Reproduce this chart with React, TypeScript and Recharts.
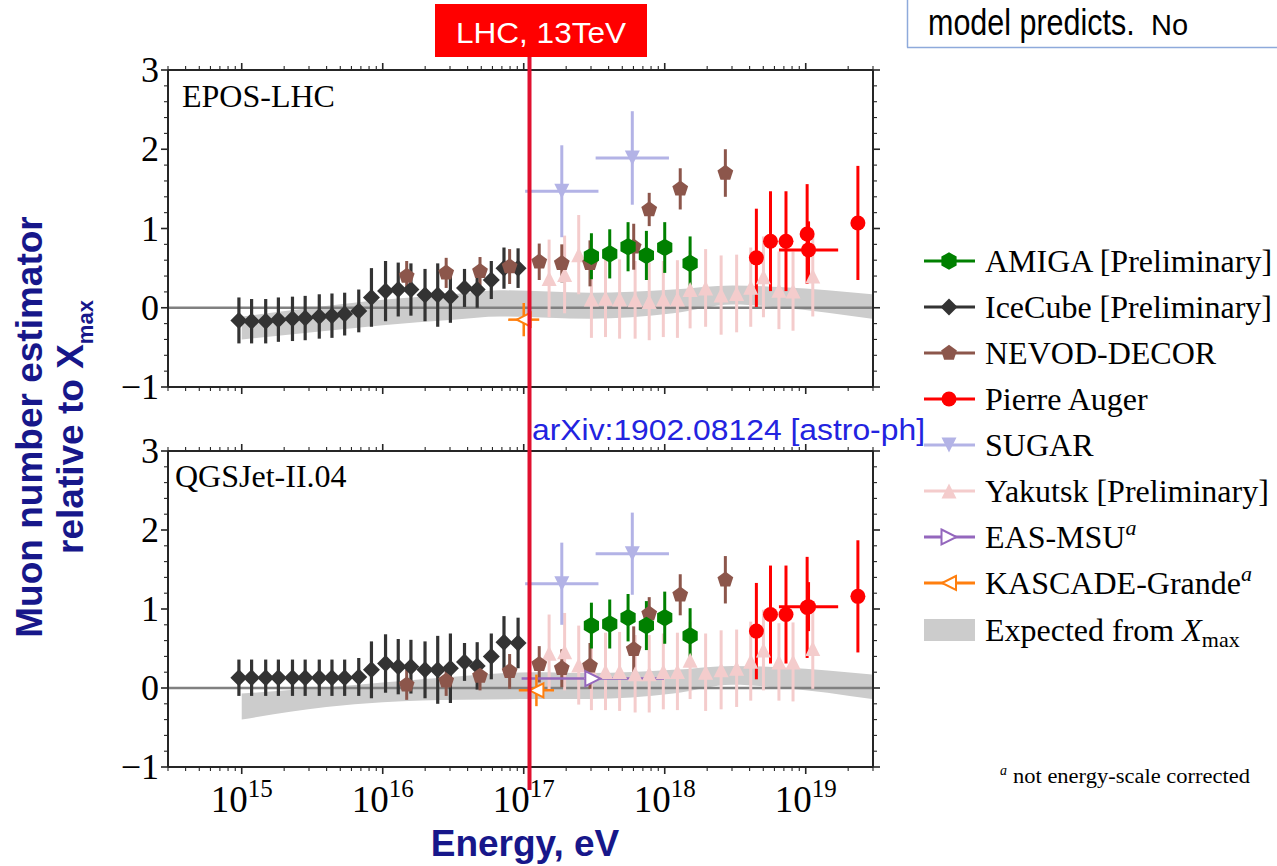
import React from 'react';
import { ComposedChart, Scatter, Area, XAxis, YAxis, ErrorBar, ReferenceLine } from 'recharts';

const SERIF = '"Liberation Serif", "Times New Roman", serif';
const SANS = '"Liberation Sans", Arial, sans-serif';
const NAVY = '#17178a';
const AX = '#262626';

// x values are log10(Energy / eV)
const X_MIN = 14 + Math.log10(3);
const X_MAX = 19 + Math.log10(3);

const yTicks = [-1, -0.8, -0.6, -0.4, -0.2, 0, 0.2, 0.4, 0.6, 0.8, 1, 1.2, 1.4, 1.6, 1.8, 2, 2.2, 2.4, 2.6, 2.8, 3];
const xDecades = [14, 15, 16, 17, 18, 19];
const xMantissas = [1, 2, 3, 4, 5, 6, 7, 8, 9];

// ---------------- IceCube [Preliminary] ----------------
const iceLgE = [14.98, 15.07, 15.17, 15.26, 15.36, 15.45, 15.55, 15.64, 15.73, 15.83, 15.92, 16.02, 16.11, 16.20, 16.30, 16.39, 16.48, 16.58, 16.67, 16.77, 16.86, 16.96];
const iceEpos = [-0.16, -0.17, -0.17, -0.15, -0.14, -0.13, -0.11, -0.10, -0.08, -0.04, 0.13, 0.21, 0.23, 0.23, 0.16, 0.16, 0.14, 0.25, 0.23, 0.35, 0.50, 0.50];
const iceEposErr = [0.29, 0.28, 0.28, 0.28, 0.28, 0.28, 0.28, 0.28, 0.27, 0.27, 0.37, 0.38, 0.34, 0.33, 0.33, 0.40, 0.33, 0.24, 0.23, 0.24, 0.26, 0.25];
const iceQgs = [0.13, 0.13, 0.13, 0.13, 0.13, 0.13, 0.13, 0.13, 0.13, 0.14, 0.23, 0.31, 0.27, 0.27, 0.23, 0.23, 0.25, 0.33, 0.28, 0.40, 0.58, 0.57];
const iceQgsErr = [0.23, 0.23, 0.23, 0.23, 0.23, 0.23, 0.23, 0.23, 0.23, 0.24, 0.36, 0.37, 0.35, 0.34, 0.36, 0.43, 0.44, 0.24, 0.30, 0.29, 0.33, 0.32];

// ---------------- NEVOD-DECOR ----------------
const nevodLgE = [16.17, 16.45, 16.69, 16.90, 17.11, 17.27, 17.47, 17.78, 17.89, 18.11, 18.43];
const nevodEpos = [0.40, 0.44, 0.46, 0.52, 0.58, 0.56, 0.56, 0.77, 1.24, 1.50, 1.70];
const nevodQgs = [0.04, 0.09, 0.15, 0.21, 0.30, 0.25, 0.28, 0.49, 0.94, 1.18, 1.37];
const nevodErr = [0.19, 0.19, 0.18, 0.22, 0.23, 0.24, 0.29, 0.29, 0.21, 0.26, 0.30];

// ---------------- AMIGA [Preliminary] ----------------
const amigaLgE = [17.48, 17.61, 17.74, 17.87, 18.00, 18.18];
const amigaEpos = [0.65, 0.68, 0.77, 0.66, 0.76, 0.56];
const amigaEposErr = [0.29, 0.31, 0.31, 0.31, 0.32, 0.34];
const amigaQgs = [0.79, 0.81, 0.89, 0.79, 0.89, 0.66];
const amigaQgsErr = [0.29, 0.31, 0.30, 0.31, 0.33, 0.35];

// ---------------- Pierre Auger ----------------
const augerLgE = [18.65, 18.75, 18.86, 19.01, 19.02, 19.37];
const augerLgEErr = [0, 0, 0, 0, 0.21, 0];
const augerEpos = [0.63, 0.84, 0.84, 0.93, 0.73, 1.07];
const augerEposErr = [0.62, 0.63, 0.63, 0.63, 0.36, 0.72];
const augerQgs = [0.72, 0.93, 0.93, 1.02, 1.03, 1.16];
const augerQgsErr = [0.61, 0.62, 0.62, 0.64, 0.31, 0.71];

// ---------------- SUGAR ----------------
const sugarLgE = [17.27, 17.77];
const sugarLgEErr = [0.26, 0.26];
const sugarEpos = [1.47, 1.89];
const sugarEposErr = [0.58, 0.59];
const sugarQgs = [1.32, 1.70];
const sugarQgsErr = [0.52, 0.52];

// ---------------- Yakutsk [Preliminary] ----------------
const yakLgE = [17.18, 17.29, 17.39, 17.48, 17.58, 17.68, 17.79, 17.89, 17.99, 18.09, 18.18, 18.29, 18.40, 18.51, 18.61, 18.70, 18.81, 18.91, 19.05];
const yakEpos = [0.37, 0.42, 0.67, 0.11, 0.12, 0.11, 0.10, 0.08, 0.11, 0.11, 0.23, 0.25, 0.16, 0.18, 0.26, 0.39, 0.22, 0.21, 0.40];
const yakQgs = [0.44, 0.46, 0.29, 0.21, 0.21, 0.21, 0.18, 0.18, 0.21, 0.21, 0.35, 0.20, 0.23, 0.25, 0.34, 0.48, 0.33, 0.33, 0.50];
const yakErr = [0.49, 0.49, 0.50, 0.49, 0.49, 0.50, 0.49, 0.49, 0.48, 0.49, 0.49, 0.49, 0.50, 0.49, 0.50, 0.51, 0.49, 0.50, 0.51];

// ---------------- EAS-MSU (QGSJet panel only) ----------------
const easLgE = [17.49];
const easLgEErr = [0.505];
const easQgs = [0.12];

// ---------------- KASCADE-Grande ----------------
const kasEposLgE = [17.0];
const kasEposLgEErr = [0.11];
const kasEpos = [-0.15];
const kasEposErr = [0.21];
const kasQgsLgE = [17.09];
const kasQgsLgEErr = [0.125];
const kasQgs = [-0.03];
const kasQgsErr = [0.2];

// ---------------- Expected from Xmax (band) ----------------
const bandEposLgE = [15.0, 15.5, 16.0, 16.5, 16.83, 17.47, 18.06, 18.48, 18.84, 19.47];
const bandEposLo = [-0.40, -0.31, -0.22, -0.15, -0.11, -0.14, -0.07, 0.04, 0.00, -0.14];
const bandEposHi = [-0.11, 0.00, 0.10, 0.17, 0.22, 0.19, 0.23, 0.28, 0.26, 0.17];
const bandQgsLgE = [15.0, 15.6, 16.0, 16.55, 17.07, 17.47, 18.06, 18.48, 18.84, 19.47];
const bandQgsLo = [-0.40, -0.24, -0.18, -0.15, -0.14, -0.14, -0.07, 0.04, 0.00, -0.14];
const bandQgsHi = [-0.07, 0.01, 0.07, 0.15, 0.20, 0.19, 0.23, 0.28, 0.26, 0.17];

const COL = {
  amiga: '#008000',
  ice: '#333333',
  nevod: '#8c564b',
  auger: '#ff0000',
  sugar: '#b3b3e6',
  yak: '#f4cccc',
  eas: '#9467bd',
  kas: '#ff7f0e',
  band: '#cccccc',
};

const xTicks: number[] = [];
xDecades.forEach((n) =>
  xMantissas.forEach((k) => {
    const v = n + Math.log10(k);
    if (v >= X_MIN - 1e-6 && v <= X_MAX + 1e-6) xTicks.push(v);
  })
);

const isMajor = (v: number) => Math.abs(v - Math.round(v)) < 1e-6;

function Marker({ kind, cx, cy, color }: { kind: string; cx: number; cy: number; color: string }) {
  if (cx == null || cy == null || isNaN(cx) || isNaN(cy)) return <g />;
  const poly = (n: number, r: number, start: number) => {
    const pts: string[] = [];
    for (let i = 0; i < n; i++) {
      const a = ((start + (360 / n) * i) * Math.PI) / 180;
      pts.push(`${cx + r * Math.cos(a)},${cy + r * Math.sin(a)}`);
    }
    return pts.join(' ');
  };
  switch (kind) {
    case 'D': {
      const h = 8.5;
      return <path d={`M${cx},${cy - h}L${cx + h},${cy}L${cx},${cy + h}L${cx - h},${cy}Z`} fill={color} />;
    }
    case 'p':
      return <polygon points={poly(5, 8.3, -90)} fill={color} />;
    case 'h':
      return <polygon points={poly(6, 8.8, -90)} fill={color} />;
    case 'o':
      return <circle cx={cx} cy={cy} r={7.5} fill={color} />;
    case 'v': {
      const a = 7.5;
      return <path d={`M${cx - a},${cy - a}L${cx + a},${cy - a}L${cx},${cy + a}Z`} fill={color} />;
    }
    case '^': {
      const a = 7.5;
      return <path d={`M${cx - a},${cy + a}L${cx + a},${cy + a}L${cx},${cy - a}Z`} fill={color} />;
    }
    case '>': {
      const a = 7.5;
      return <path d={`M${cx - a},${cy - a}L${cx + a},${cy}L${cx - a},${cy + a}Z`} fill="#ffffff" stroke={color} strokeWidth={2} />;
    }
    case '<': {
      const a = 7;
      return <path d={`M${cx + a},${cy - a}L${cx - a},${cy}L${cx + a},${cy + a}Z`} fill="#ffffff" stroke={color} strokeWidth={2} />;
    }
    default:
      return <g />;
  }
}

const shapeOf = (kind: string, color: string) => (p: any) => <Marker kind={kind} cx={p.cx} cy={p.cy} color={color} />;

function makeXTick(side: 'bottom' | 'top', labels: boolean) {
  return (p: any) => {
    const { x, y, payload } = p;
    const v = Number(payload?.value);
    const maj = isMajor(v);
    const len = maj ? 7 : 4;
    const y2 = side === 'bottom' ? y + len : y - len;
    return (
      <g>
        <line x1={x} x2={x} y1={y} y2={y2} stroke={AX} strokeWidth={maj ? 1.6 : 1.1} />
        {labels && maj ? (
          <text x={x} y={y + 45} textAnchor="middle" fontFamily={SERIF} fontSize={37} fill="#000">
            10
            <tspan dy={-15} fontSize={25}>
              {String(Math.round(v))}
            </tspan>
          </text>
        ) : null}
      </g>
    );
  };
}

function makeYTick(side: 'left' | 'right') {
  return (p: any) => {
    const { x, y, payload } = p;
    const v = Number(payload?.value);
    const maj = isMajor(v);
    const len = maj ? 7 : 4;
    const x2 = side === 'left' ? x - len : x + len;
    const lab = v < 0 ? '\u2212' + String(Math.abs(Math.round(v))) : String(Math.round(v));
    return (
      <g>
        <line x1={x} x2={x2} y1={y} y2={y} stroke={AX} strokeWidth={maj ? 1.6 : 1.1} />
        {side === 'left' && maj ? (
          <text x={x - 9} y={y + 12} textAnchor="end" fontFamily={SERIF} fontSize={36} fill="#000">
            {lab}
          </text>
        ) : null}
      </g>
    );
  };
}

const zip3 = (xs: number[], ys: number[], eys?: number[], exs?: number[]) =>
  xs.map((x, i) => ({ x, y: ys[i], ey: eys ? eys[i] : 0, ex: exs ? exs[i] : 0 }));

type PanelDef = {
  band: { x: number; band: [number, number] }[];
  ice: any[];
  nevod: any[];
  amiga: any[];
  auger: any[];
  sugar: any[];
  yak: any[];
  eas: any[] | null;
  kas: any[];
};

const eposPanel: PanelDef = {
  band: bandEposLgE.map((x, i) => ({ x, band: [bandEposLo[i], bandEposHi[i]] as [number, number] })),
  ice: zip3(iceLgE, iceEpos, iceEposErr),
  nevod: zip3(nevodLgE, nevodEpos, nevodErr),
  amiga: zip3(amigaLgE, amigaEpos, amigaEposErr),
  auger: zip3(augerLgE, augerEpos, augerEposErr, augerLgEErr),
  sugar: zip3(sugarLgE, sugarEpos, sugarEposErr, sugarLgEErr),
  yak: zip3(yakLgE, yakEpos, yakErr),
  eas: null,
  kas: zip3(kasEposLgE, kasEpos, kasEposErr, kasEposLgEErr),
};

const qgsPanel: PanelDef = {
  band: bandQgsLgE.map((x, i) => ({ x, band: [bandQgsLo[i], bandQgsHi[i]] as [number, number] })),
  ice: zip3(iceLgE, iceQgs, iceQgsErr),
  nevod: zip3(nevodLgE, nevodQgs, nevodErr),
  amiga: zip3(amigaLgE, amigaQgs, amigaQgsErr),
  auger: zip3(augerLgE, augerQgs, augerQgsErr, augerLgEErr),
  sugar: zip3(sugarLgE, sugarQgs, sugarQgsErr, sugarLgEErr),
  yak: zip3(yakLgE, yakQgs, yakErr),
  eas: zip3(easLgE, easQgs, undefined, easLgEErr),
  kas: zip3(kasQgsLgE, kasQgs, kasQgsErr, kasQgsLgEErr),
};

function errY(color: string, w: number) {
  return <ErrorBar dataKey="ey" direction="y" width={0} stroke={color} strokeWidth={w} isAnimationActive={false} />;
}
function errX(color: string, w: number) {
  return <ErrorBar dataKey="ex" direction="x" width={0} stroke={color} strokeWidth={w} isAnimationActive={false} />;
}

function Panel({ def, top, height, margin, labels }: { def: PanelDef; top: number; height: number; margin: any; labels: boolean }) {
  return (
    <div style={{ position: 'absolute', left: 0, top }}>
      <ComposedChart width={900} height={height} data={def.band} margin={margin}>
        <XAxis
          dataKey="x"
          type="number"
          domain={[X_MIN, X_MAX]}
          allowDataOverflow
          ticks={xTicks}
          interval={0}
          tickLine={false}
          tickSize={0}
          tickMargin={0}
          height={10}
          axisLine={{ stroke: AX, strokeWidth: 2 }}
          tick={makeXTick('bottom', labels)}
        />
        <XAxis
          xAxisId="t"
          orientation="top"
          dataKey="x"
          type="number"
          domain={[X_MIN, X_MAX]}
          allowDataOverflow
          ticks={xTicks}
          interval={0}
          tickLine={false}
          tickSize={0}
          tickMargin={0}
          height={10}
          axisLine={{ stroke: AX, strokeWidth: 2 }}
          tick={makeXTick('top', false)}
        />
        <YAxis
          type="number"
          domain={[-1, 3]}
          allowDataOverflow
          ticks={yTicks}
          interval={0}
          tickLine={false}
          tickSize={0}
          tickMargin={0}
          width={60}
          axisLine={{ stroke: AX, strokeWidth: 2 }}
          tick={makeYTick('left')}
        />
        <YAxis
          yAxisId="r"
          orientation="right"
          type="number"
          domain={[-1, 3]}
          allowDataOverflow
          ticks={yTicks}
          interval={0}
          tickLine={false}
          tickSize={0}
          tickMargin={0}
          width={10}
          axisLine={{ stroke: AX, strokeWidth: 2 }}
          tick={makeYTick('right')}
        />
        <Area
          dataKey="band"
          type="monotone"
          fill={COL.band}
          fillOpacity={1}
          stroke="none"
          dot={false}
          activeDot={false}
          isAnimationActive={false}
        />
        <ReferenceLine y={0} stroke="#808080" strokeWidth={2.5} />
        <Scatter data={def.yak} dataKey="y" shape={shapeOf('^', COL.yak)} isAnimationActive={false}>
          {errY(COL.yak, 3)}
        </Scatter>
        <Scatter data={def.sugar} dataKey="y" shape={shapeOf('v', COL.sugar)} isAnimationActive={false}>
          {errY(COL.sugar, 3)}
          {errX(COL.sugar, 3)}
        </Scatter>
        <Scatter data={def.ice} dataKey="y" shape={shapeOf('D', COL.ice)} isAnimationActive={false}>
          {errY(COL.ice, 3.2)}
        </Scatter>
        <Scatter data={def.nevod} dataKey="y" shape={shapeOf('p', COL.nevod)} isAnimationActive={false}>
          {errY(COL.nevod, 3)}
        </Scatter>
        <Scatter data={def.amiga} dataKey="y" shape={shapeOf('h', COL.amiga)} isAnimationActive={false}>
          {errY(COL.amiga, 3)}
        </Scatter>
        <Scatter data={def.auger} dataKey="y" shape={shapeOf('o', COL.auger)} isAnimationActive={false}>
          {errY(COL.auger, 3)}
          {errX(COL.auger, 3)}
        </Scatter>
        {def.eas ? (
          <Scatter data={def.eas} dataKey="y" shape={shapeOf('>', COL.eas)} isAnimationActive={false}>
            {errX(COL.eas, 2.5)}
          </Scatter>
        ) : null}
        <Scatter data={def.kas} dataKey="y" shape={shapeOf('<', COL.kas)} isAnimationActive={false}>
          {errY(COL.kas, 2.5)}
          {errX(COL.kas, 2.5)}
        </Scatter>
      </ComposedChart>
    </div>
  );
}

const legendItems = [
  { label: 'AMIGA [Preliminary]', color: COL.amiga, kind: 'h' },
  { label: 'IceCube [Preliminary]', color: COL.ice, kind: 'D' },
  { label: 'NEVOD-DECOR', color: COL.nevod, kind: 'p' },
  { label: 'Pierre Auger', color: COL.auger, kind: 'o' },
  { label: 'SUGAR', color: COL.sugar, kind: 'v' },
  { label: 'Yakutsk [Preliminary]', color: COL.yak, kind: '^' },
  { label: 'EAS-MSU', color: COL.eas, kind: '>', sup: true },
  { label: 'KASCADE-Grande', color: COL.kas, kind: '<', sup: true },
];

function Overlay() {
  const legTop = 261;
  const step = 46;
  return (
    <svg width={1277} height={866} style={{ position: 'absolute', left: 0, top: 0, pointerEvents: 'none' }}>
      {/* slide text box at top right */}
      <line x1={907.5} y1={0} x2={907.5} y2={47.5} stroke="#8eaadb" strokeWidth={1.5} />
      <line x1={907} y1={47.5} x2={1277} y2={47.5} stroke="#8eaadb" strokeWidth={1.5} />
      <text transform="translate(928,35) scale(1,1.2)" fontFamily={SANS} fontSize={30.5} fill="#000">
        model predicts.
      </text>
      <text x={1151} y={35} fontFamily={SANS} fontSize={29} fill="#000">
        No
      </text>

      {/* panel titles */}
      <text x={182} y={107} fontFamily={SERIF} fontSize={32} fill="#000">
        EPOS-LHC
      </text>
      <text x={175} y={487} fontFamily={SERIF} fontSize={32} fill="#000">
        QGSJet-II.04
      </text>

      {/* arXiv */}
      <text x={532} y={440} fontFamily={SANS} fontSize={29} fill="#2323e0" textLength={393} lengthAdjust="spacingAndGlyphs">
        arXiv:1902.08124 [astro-ph]
      </text>

      {/* LHC marker */}
      <line x1={529.5} y1={57} x2={529.5} y2={790} stroke="#e0102f" strokeWidth={4} />
      <rect x={435} y={4} width={212} height={53} fill="#ff0000" />
      <text x={541} y={43} textAnchor="middle" fontFamily={SANS} fontSize={29} fill="#ffffff" textLength={170} lengthAdjust="spacingAndGlyphs">
        LHC, 13TeV
      </text>

      {/* y-axis label */}
      <text transform="translate(42,427) rotate(-90)" textAnchor="middle" fontFamily={SANS} fontWeight="bold" fontSize={37} fill={NAVY}>
        Muon number estimator
      </text>
      <text transform="translate(83,427) rotate(-90)" textAnchor="middle" fontFamily={SANS} fontWeight="bold" fontSize={37} fill={NAVY}>
        relative to X
        <tspan dy={10} fontSize={22}>
          max
        </tspan>
      </text>

      {/* x-axis label */}
      <text x={525} y={856} textAnchor="middle" fontFamily={SANS} fontWeight="bold" fontSize={37} fill={NAVY}>
        Energy, eV
      </text>

      {/* legend */}
      {legendItems.map((it, i) => {
        const cy = legTop + i * step;
        return (
          <g key={it.label}>
            <line x1={924} x2={975} y1={cy} y2={cy} stroke={it.color} strokeWidth={2.8} />
            <Marker kind={it.kind} cx={949} cy={cy} color={it.color} />
            <text x={985} y={cy + 11} fontFamily={SERIF} fontSize={32} fill="#000">
              {it.label}
              {it.sup ? (
                <tspan dy={-13} fontSize={22} fontStyle="italic">
                  a
                </tspan>
              ) : null}
            </text>
          </g>
        );
      })}
      <rect x={924} y={619} width={51} height={22} fill={COL.band} />
      <text x={985} y={641} fontFamily={SERIF} fontSize={32} fill="#000">
        Expected from <tspan fontStyle="italic">X</tspan>
        <tspan dy={6} fontSize={22}>
          max
        </tspan>
      </text>

      {/* footnote */}
      <text x={1000} y={775} fontFamily={SERIF} fontSize={14} fontStyle="italic" fill="#000">
        a
      </text>
      <text x={1013} y={783} fontFamily={SERIF} fontSize={20} fill="#000" textLength={237} lengthAdjust="spacingAndGlyphs">
        not energy-scale corrected
      </text>
    </svg>
  );
}

export default function App() {
  return (
    <div style={{ position: 'absolute', left: 0, top: 0, width: 1277, height: 866, background: '#ffffff', overflow: 'hidden' }}>
      <Panel def={eposPanel} top={0} height={425} margin={{ top: 60, right: 17, bottom: 28, left: 108 }} labels={false} />
      <Panel def={qgsPanel} top={380} height={486} margin={{ top: 61, right: 17, bottom: 89, left: 108 }} labels={true} />
      <Overlay />
    </div>
  );
}
